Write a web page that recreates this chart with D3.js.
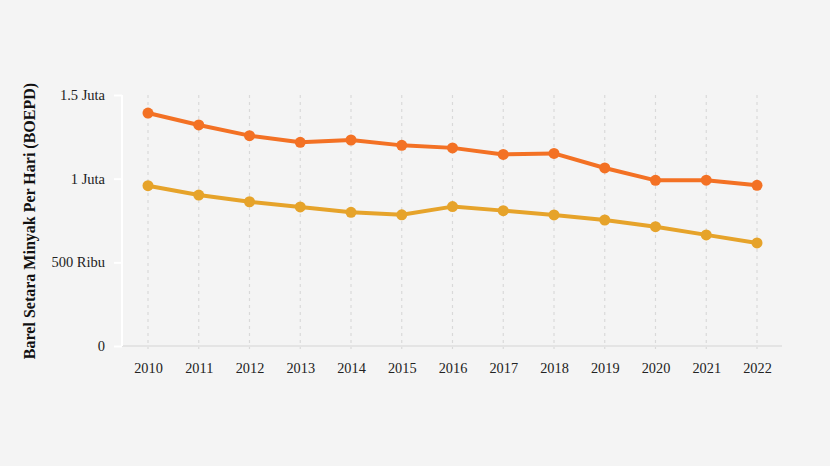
<!DOCTYPE html>
<html>
<head>
<meta charset="utf-8">
<style>
  body { margin: 0; background: #f4f4f4; }
  svg { display: block; font-family: "Liberation Serif", "Times New Roman", serif; }
</style>
</head>
<body>
<svg width="830" height="466"></svg>
<script src="https://d3js.org/d3.v7.min.js"></script>
<script>
// tahun dan produksi (BOEPD)
var years = [2010, 2011, 2012, 2013, 2014, 2015, 2016, 2017, 2018, 2019, 2020, 2021, 2022];
var seriesA = [1392000, 1321000, 1257000, 1217000, 1231000, 1199000, 1184000, 1145000, 1151000, 1064000, 990000, 991000, 960000];
var seriesB = [958000, 902000, 862000, 831000, 799000, 784000, 833000, 809000, 783000, 753000, 713000, 664000, 616000];
var yTicks = [0, 500000, 1000000, 1500000];
var yTickLabels = ["0", "500 Ribu", "1 Juta", "1.5 Juta"];

var svg = d3.select("svg");

var x = d3.scalePoint().domain(years).range([148, 757]);
var y = d3.scaleLinear().domain([0, 1500000]).range([346, 95]);

svg.append("rect").attr("width", 830).attr("height", 466).attr("fill", "#f4f4f4");

// grid lines (dotted, vertical)
svg.append("g").selectAll("line")
  .data(years)
  .enter().append("line")
    .attr("x1", function(d) { return x(d); })
    .attr("x2", function(d) { return x(d); })
    .attr("y1", 95).attr("y2", 349)
    .attr("stroke", "#d9d9d9")
    .attr("stroke-width", 1.2)
    .attr("stroke-dasharray", "3,4");

// x baseline
svg.append("line")
  .attr("x1", 122).attr("x2", 782)
  .attr("y1", 346).attr("y2", 346)
  .attr("stroke", "#e4e4e4").attr("stroke-width", 2);

// y axis (white)
var yAxis = d3.axisLeft(y)
  .tickValues(yTicks)
  .tickSize(8)
  .tickPadding(9)
  .tickFormat(function(d, i) { return yTickLabels[i]; });

var gy = svg.append("g").attr("transform", "translate(122,0)").call(yAxis);
gy.select(".domain").attr("stroke", "#fff").attr("stroke-width", 2).attr("d", "M0,95V346");
gy.selectAll(".tick line").attr("stroke", "#fff").attr("stroke-width", 2);
gy.selectAll(".tick text")
  .attr("font-family", "Liberation Serif, serif")
  .attr("font-size", 14.5)
  .attr("fill", "#222");

// x axis labels
var xAxis = d3.axisBottom(x).tickSize(0).tickPadding(17);
var gx = svg.append("g").attr("transform", "translate(0,346)").call(xAxis);
gx.select(".domain").remove();
gx.selectAll(".tick text")
  .attr("font-family", "Liberation Serif, serif")
  .attr("font-size", 14.3)
  .attr("fill", "#222");

// y axis title
svg.append("text")
  .attr("transform", "translate(35,221) rotate(-90)")
  .attr("text-anchor", "middle")
  .attr("font-size", 16)
  .attr("font-weight", "bold")
  .attr("fill", "#111")
  .text("Barel Setara Minyak Per Hari (BOEPD)");

var line = d3.line()
  .x(function(d, i) { return x(years[i]); })
  .y(function(d) { return y(d); });

function drawSeries(data, color) {
  svg.append("path")
    .datum(data)
    .attr("d", line)
    .attr("fill", "none")
    .attr("stroke", color)
    .attr("stroke-width", 4)
    .attr("stroke-linejoin", "round");
  svg.append("g").selectAll("circle")
    .data(data)
    .enter().append("circle")
      .attr("cx", function(d, i) { return x(years[i]); })
      .attr("cy", function(d) { return y(d); })
      .attr("r", 5.5)
      .attr("fill", color);
}

drawSeries(seriesB, "#e6a32a");
drawSeries(seriesA, "#f37124");
</script>
</body>
</html>
